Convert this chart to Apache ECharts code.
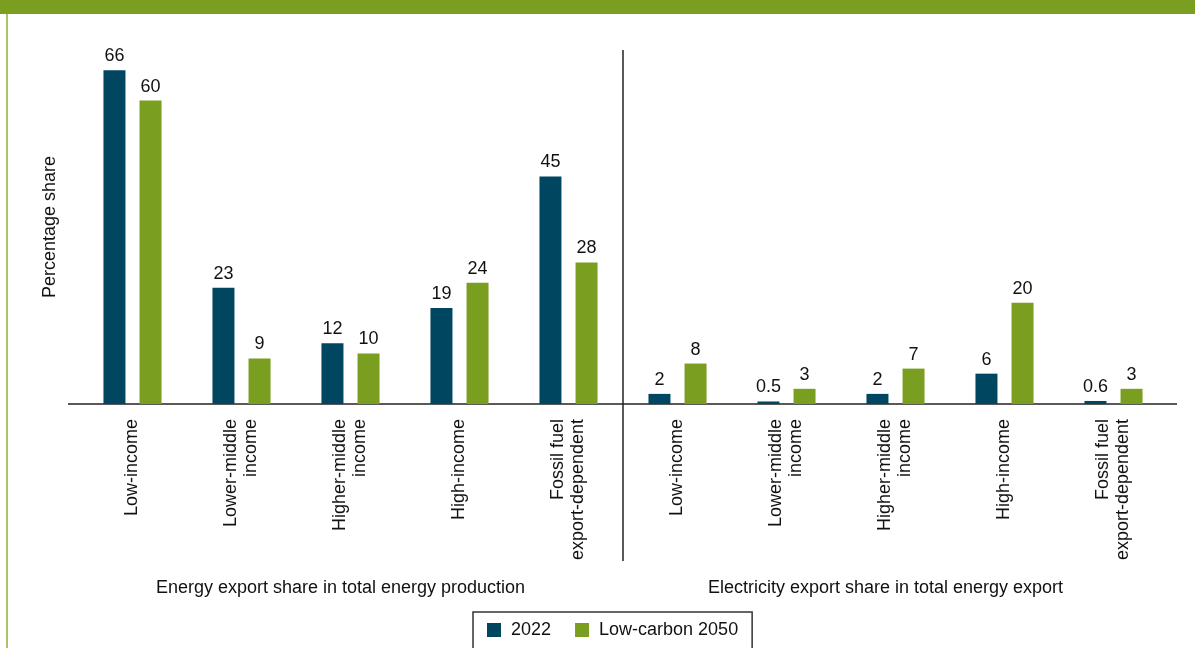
<!DOCTYPE html>
<html><head><meta charset="utf-8">
<script src="https://cdn.jsdelivr.net/npm/echarts@6/dist/echarts.min.js"></script>
<style>html,body{margin:0;padding:0;background:#fff}#c{width:1195px;height:648px}</style>
</head><body><div id="c"></div>
<script>
const categories = ['Low-income','Lower-middle\nincome','Higher-middle\nincome','High-income','Fossil fuel\nexport-dependent',
                    'Low-income','Lower-middle\nincome','Higher-middle\nincome','High-income','Fossil fuel\nexport-dependent'];
const groupTitles = ['Energy export share in total energy production','Electricity export share in total energy export'];
const values2022 = [66, 23, 12, 19, 45, 2, 0.5, 2, 6, 0.6];
const values2050 = [60, 9, 10, 24, 28, 8, 3, 7, 20, 3];
const seriesNames = ['2022','Low-carbon 2050'];

const DARK = '#004660', GREEN = '#7a9e1f';
const FONT = 'Liberation Sans, Arial, sans-serif';
const chart = echarts.init(document.getElementById('c'));
const labelStyle = {show:true, position:'top', distance:5, fontSize:18, color:'#111', fontFamily:FONT};
chart.setOption({
  animation:false,
  textStyle:{fontFamily:FONT},
  grid:{left:78, right:27, top:50, bottom:244},
  legend:{
    left:473, top:612, padding:[9,14,20,14],
    borderColor:'#333', borderWidth:1.5,
    itemWidth:14, itemHeight:14, itemGap:24,
    icon:'rect',
    textStyle:{fontSize:18, color:'#111', fontFamily:FONT, padding:[0,0,0,5]},
    data:seriesNames
  },
  xAxis:[{
    type:'category', data:categories,
    axisLine:{show:false}, axisTick:{show:false},
    axisLabel:{rotate:90, fontSize:18, color:'#111', margin:15, interval:0, fontFamily:FONT, lineHeight:20}
  },{
    type:'category', data:groupTitles, position:'bottom', offset:167,
    axisLine:{show:false}, axisTick:{show:false}, splitLine:{show:false},
    axisLabel:{fontSize:18, color:'#111', interval:0, padding:[0,20,0,0], fontFamily:FONT}
  }],
  yAxis:{
    type:'value', min:0, max:70,
    axisLine:{show:false}, axisTick:{show:false}, axisLabel:{show:false}, splitLine:{show:false},
    name:'Percentage share', nameLocation:'middle', nameGap:19,
    nameTextStyle:{fontSize:18, color:'#111', fontFamily:FONT}
  },
  series:[
    {name:seriesNames[0], type:'bar', data:values2022, barWidth:22, barGap:'64%', itemStyle:{color:DARK}, label:labelStyle, xAxisIndex:0},
    {name:seriesNames[1], type:'bar', data:values2050, barWidth:22, itemStyle:{color:GREEN}, label:labelStyle, xAxisIndex:0}
  ]
});
const y0 = chart.convertToPixel({yAxisIndex:0}, 0);
const yTop = chart.convertToPixel({yAxisIndex:0}, 70);
const xa = chart.convertToPixel({xAxisIndex:0}, 4), xb = chart.convertToPixel({xAxisIndex:0}, 5);
const xSep = (xa + xb) / 2;
chart.setOption({graphic:[
  {type:'rect', shape:{x:0,y:0,width:1195,height:14}, style:{fill:'#7a9e1f'}, silent:true},
  {type:'line', shape:{x1:7,y1:14,x2:7,y2:648}, style:{stroke:'#a9c464', lineWidth:2}, silent:true},
  {type:'line', shape:{x1:68,y1:y0,x2:1177,y2:y0}, style:{stroke:'#222', lineWidth:1.5}, silent:true},
  {type:'line', shape:{x1:xSep,y1:yTop,x2:xSep,y2:561}, style:{stroke:'#222', lineWidth:1.5}, silent:true}
]});
</script></body></html>
